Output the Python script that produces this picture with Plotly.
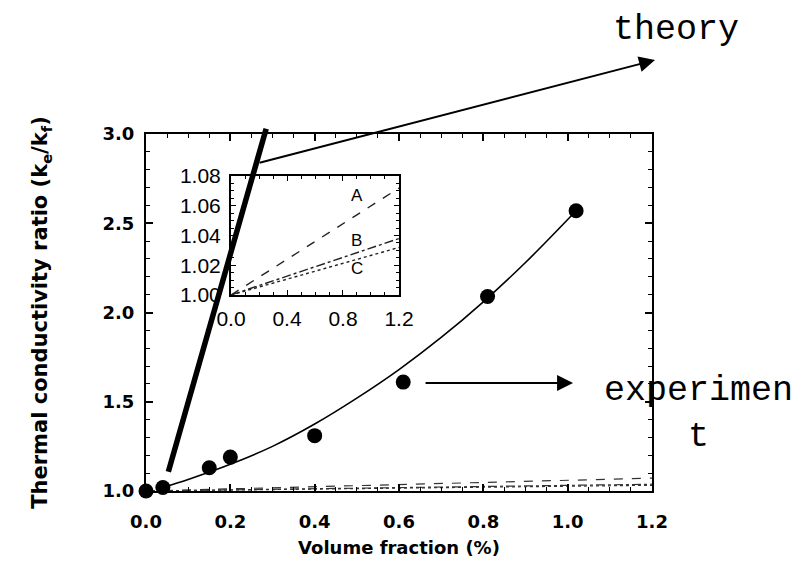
import plotly.graph_objects as go

# Measured thermal conductivity ratio vs. nanotube volume fraction
vol_frac = [0.0, 0.04, 0.15, 0.2, 0.4, 0.61, 0.81, 1.02]
k_ratio = [1.0, 1.02, 1.13, 1.19, 1.31, 1.61, 2.09, 2.57]

# Smooth fit through the measurements
fit_x = [0.04, 0.1, 0.2, 0.3, 0.4, 0.5, 0.6, 0.7, 0.8, 0.9, 1.02]
fit_y = [1.02, 1.065, 1.15, 1.25, 1.375, 1.52, 1.68, 1.86, 2.06, 2.28, 2.57]

# Heavy "theory" line
theory_x = [0.052, 0.285]
theory_y = [1.10, 3.03]

# Model predictions A, B, C (straight lines from the origin)
model_x = [0.0, 1.2]
model_A = [1.0, 1.072]
model_B = [1.0, 1.038]
model_C = [1.0, 1.032]
model_labels = ["A", "B", "C"]
label_x = 0.9
label_y = [1.067, 1.037, 1.018]

main_xticks = [0.0, 0.2, 0.4, 0.6, 0.8, 1.0, 1.2]
main_yticks = [1.0, 1.5, 2.0, 2.5, 3.0]
inset_xticks = [0.0, 0.4, 0.8, 1.2]
inset_yticks = [1.00, 1.02, 1.04, 1.06, 1.08]

BOLD = "DejaVu Sans, Liberation Sans, sans-serif"
SANS = "Liberation Sans, Arial, sans-serif"
MONO = "Liberation Mono, DejaVu Sans Mono, monospace"

fig = go.Figure()

# model lines on the main axes (hugging y = 1)
for ys, dash in [(model_A, "dash"), (model_B, "dashdot"), (model_C, "dot")]:
    fig.add_trace(go.Scatter(x=model_x, y=ys, mode="lines",
                             line=dict(color="#333", width=1.2, dash=dash),
                             showlegend=False, hoverinfo="skip"))

fig.add_trace(go.Scatter(x=fit_x, y=fit_y, mode="lines",
                         line=dict(color="black", width=1.6, shape="spline"),
                         showlegend=False))
fig.add_trace(go.Scatter(x=vol_frac, y=k_ratio, mode="markers",
                         marker=dict(color="black", size=15),
                         cliponaxis=False, showlegend=False))

# inset: same model lines on a magnified scale
for ys, dash in [(model_A, "dash"), (model_B, "dashdot"), (model_C, "dot")]:
    fig.add_trace(go.Scatter(x=model_x, y=ys, mode="lines", xaxis="x2", yaxis="y2",
                             line=dict(color="#222", width=1.4, dash=dash),
                             showlegend=False, hoverinfo="skip"))

axis_common = dict(showline=True, linecolor="black", mirror="allticks",
                   ticks="inside", tickcolor="black", showgrid=False, zeroline=False)

fig.update_layout(
    width=809, height=572,
    margin=dict(l=146, r=157, t=134, b=81),
    paper_bgcolor="white", plot_bgcolor="white",
    xaxis=dict(range=[0, 1.2], tickvals=main_xticks,
               ticktext=[f"{v:.1f}" for v in main_xticks],
               linewidth=2, ticklen=7, tickwidth=1.5,
               minor=dict(ticks="inside", dtick=0.05, ticklen=4, tickcolor="black", tickwidth=1),
               tickfont=dict(family=BOLD, size=18, color="black", weight="bold"),
               ticklabelstandoff=13,
               title=dict(text="Volume fraction (%)", standoff=11,
                          font=dict(family=BOLD, size=18, color="black", weight="bold")),
               **axis_common),
    yaxis=dict(range=[1.0, 3.0], tickvals=main_yticks,
               ticktext=[f"{v:.1f}" for v in main_yticks],
               linewidth=2, ticklen=7, tickwidth=1.5,
               minor=dict(ticks="inside", dtick=0.1, ticklen=4, tickcolor="black", tickwidth=1),
               tickfont=dict(family=BOLD, size=18, color="black", weight="bold"),
               ticklabelstandoff=6,
               title=dict(text="Thermal conductivity ratio (k<sub>e</sub>/k<sub>f</sub>)", standoff=49,
                          font=dict(family=BOLD, size=21, color="black", weight="bold")),
               **axis_common),
    xaxis2=dict(domain=[0.168, 0.5], anchor="y2", range=[0, 1.2], tickvals=inset_xticks,
                ticktext=[f"{v:.1f}" for v in inset_xticks],
                linewidth=2, ticklen=5, tickwidth=1.2,
                minor=dict(ticks="inside", dtick=0.1, ticklen=3, tickcolor="black", tickwidth=1),
                tickfont=dict(family=SANS, size=21, color="black"),
                ticklabelstandoff=4,
                **axis_common),
    yaxis2=dict(domain=[0.549, 0.882], anchor="x2", range=[1.0, 1.08], tickvals=inset_yticks,
                ticktext=[f"{v:.2f}" for v in inset_yticks],
                linewidth=2, ticklen=5, tickwidth=1.2,
                minor=dict(ticks="inside", dtick=0.005, ticklen=3, tickcolor="black", tickwidth=1),
                tickfont=dict(family=SANS, size=21, color="black"),
                ticklabelstandoff=4,
                **axis_common),
)

annotations = []
# model labels in the inset
for lab, ly in zip(model_labels, label_y):
    annotations.append(dict(x=label_x, y=ly, xref="x2", yref="y2", text=lab,
                            xanchor="center", yanchor="middle",
                            showarrow=False, font=dict(family=SANS, size=17, color="black")))

# heavy theory line (allowed to run past the top frame)
annotations.append(dict(x=theory_x[1], y=theory_y[1], xref="x", yref="y",
                        ax=theory_x[0], ay=theory_y[0], axref="x", ayref="y",
                        text="", showarrow=True, arrowhead=0, arrowwidth=5.5,
                        arrowcolor="black", standoff=0, startstandoff=0))

# callouts
annotations.append(dict(x=1.006, y=1.207, xref="paper", yref="paper",
                        ax=-397, ay=103, text="", showarrow=True,
                        arrowhead=2, arrowsize=1.6, arrowwidth=2, arrowcolor="black"))
annotations.append(dict(x=1.047, y=1.291, xref="paper", yref="paper", text="theory",
                        xanchor="center", yanchor="middle",
                        showarrow=False, font=dict(family=MONO, size=35, color="black")))
annotations.append(dict(x=0.844, y=0.3025, xref="paper", yref="paper",
                        ax=-149, ay=0, text="", showarrow=True,
                        arrowhead=2, arrowsize=1.6, arrowwidth=2, arrowcolor="black"))
annotations.append(dict(x=1.091, y=0.216, xref="paper", yref="paper",
                        text="experimen<br>t", align="center",
                        xanchor="center", yanchor="middle",
                        showarrow=False, font=dict(family=MONO, size=35, color="black")))

fig.update_layout(annotations=annotations)

fig.write_html("out.html")
